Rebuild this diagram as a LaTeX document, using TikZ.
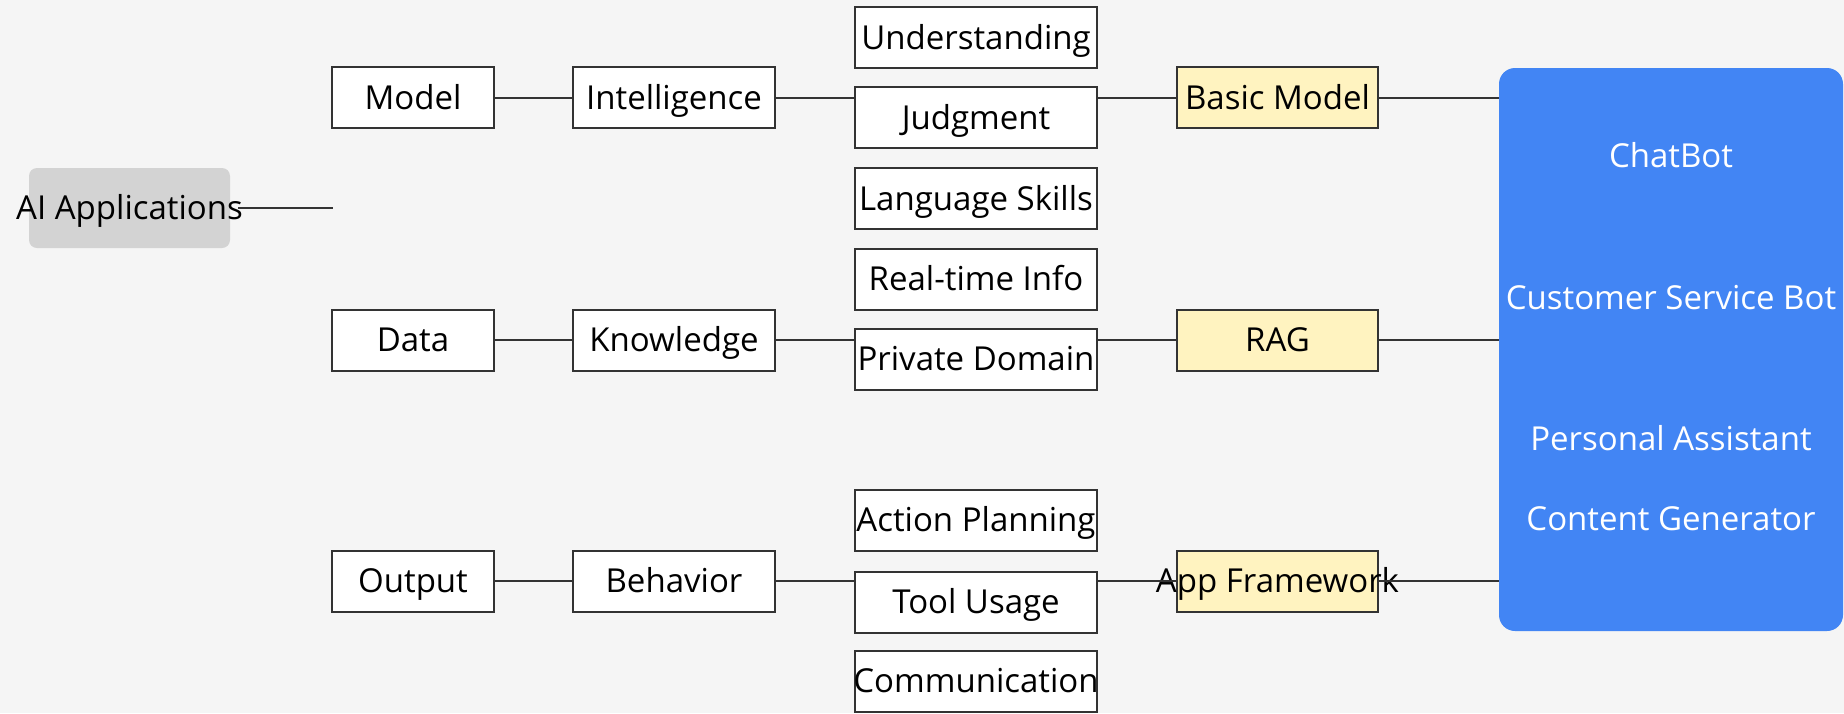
\documentclass[tikz,border=0pt]{standalone}
\usepackage{fontspec}
\setmainfont{Open Sans}
\definecolor{bg}{HTML}{F5F5F5}
\definecolor{edge}{HTML}{333333}
\definecolor{ybox}{HTML}{FFF3C0}
\definecolor{bluebox}{HTML}{4285F4}
\definecolor{aigray}{HTML}{D3D3D3}
\begin{document}
\begin{tikzpicture}[x=1pt,y=-1pt,
  every node/.style={font=\fontsize{33}{38}\selectfont, inner sep=0pt, text height=23.5pt, text depth=0pt},
  wbox/.style={draw=edge, line width=2pt, fill=white, minimum height=61pt},
  yelbox/.style={wbox, fill=ybox, minimum width=201pt},
  colbox/.style={wbox, minimum width=242pt},
  conn/.style={draw=edge, line width=2pt}]
\fill[bg] (0,0) rectangle (1844,713);
\useasboundingbox (0,0) rectangle (1844,713);

% root
\node[fill=aigray, rounded corners=8pt, minimum width=201pt, minimum height=80pt] (ai) at (129.5,208) {\makebox[0pt]{AI Applications}};
\coordinate (aiend) at (238,208);
\coordinate (aistub) at (333,208);

% left columns
\node[wbox, minimum width=162pt] (model) at (413,97.5) {Model};
\node[wbox, minimum width=162pt] (data) at (413,340) {Data};
\node[wbox, minimum width=162pt] (output) at (413,581) {Output};
\node[wbox, minimum width=202pt] (intel) at (674,97.5) {Intelligence};
\node[wbox, minimum width=202pt] (know) at (674,340) {Knowledge};
\node[wbox, minimum width=202pt] (behav) at (674,581) {Behavior};

% middle column
\node[colbox] (under) at (976,37.5) {Understanding};
\node[colbox] (judg) at (976,117.5) {Judgment};
\node[colbox] (lang) at (976,198.5) {Language Skills};
\node[colbox] (real) at (976,279) {Real-time Info};
\node[colbox] (priv) at (976,359) {Private Domain};
\node[colbox] (act) at (976,520) {Action Planning};
\node[colbox] (tool) at (976,602) {Tool Usage};
\node[colbox] (comm) at (976,681) {\makebox[0pt]{Communication}};

% yellow
\node[yelbox] (basic) at (1277.5,97.5) {Basic Model};
\node[yelbox] (rag) at (1277.5,340) {RAG};
\node[yelbox] (app) at (1277.5,581) {\makebox[0pt]{App Framework}};

% blue
\node[fill=bluebox, rounded corners=16pt, minimum width=344pt, minimum height=563pt] (apps) at (1671,349.5) {};
\node[text=white] (t1) at (1671,156) {ChatBot};
\node[text=white] (t2) at (1671,298) {Customer Service Bot};
\node[text=white] (t3) at (1671,439) {Personal Assistant};
\node[text=white] (t4) at (1671,519) {Content Generator};

% connectors
\draw[conn] (aiend) -- (aistub);
\draw[conn] (model.east) -- (intel.west);
\draw[conn] (intel.east) -- (judg.west |- intel.east);
\draw[conn] (judg.east |- basic.west) -- (basic.west);
\draw[conn] (basic.east) -- (apps.west |- basic.east);
\draw[conn] (data.east) -- (know.west);
\draw[conn] (know.east) -- (priv.west |- know.east);
\draw[conn] (priv.east |- rag.west) -- (rag.west);
\draw[conn] (rag.east) -- (apps.west |- rag.east);
\draw[conn] (output.east) -- (behav.west);
\draw[conn] (behav.east) -- (tool.west |- behav.east);
\draw[conn] (tool.east |- app.west) -- (app.west);
\draw[conn] (app.east) -- (apps.west |- app.east);
\end{tikzpicture}
\end{document}
